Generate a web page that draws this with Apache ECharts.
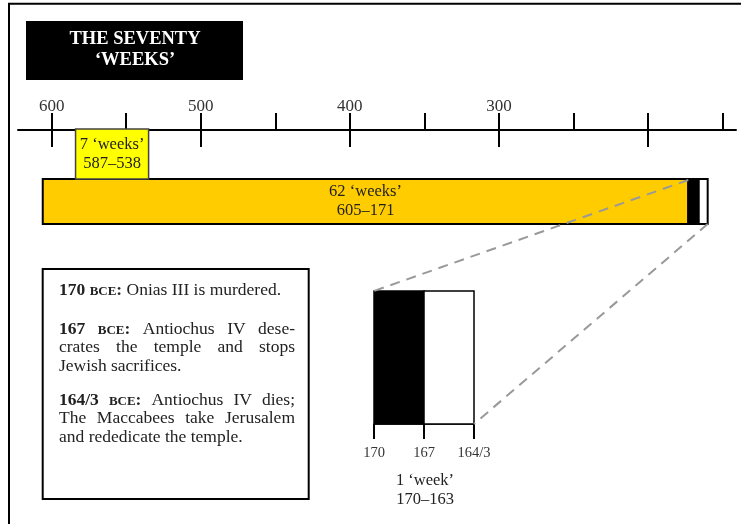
<!DOCTYPE html>
<html><head><meta charset="utf-8">
<script src="https://cdn.jsdelivr.net/npm/echarts@6/dist/echarts.min.js"></script>
<style>html,body{margin:0;padding:0;background:#fff}#c{width:741px;height:524px}</style>
</head><body><div id="c"></div>
<script>
// ---------- data ----------
const titleLines = ['THE SEVENTY', '‘WEEKS’'];
const axisMajorYears = [600, 500, 400, 300, 200];
const axisMinorYears = [550, 450, 350, 250, 150];
const axisLabelYears = [600, 500, 400, 300];
const axisRange = [141, 622.6];

const sixtyTwoWeeksSpan = [606, 173];
const sixtyTwoWeeksLabel = ['62 ‘weeks’', '605–171'];
const sevenWeeksSpan = [584, 535];
const sevenWeeksLabel = ['7 ‘weeks’', '587–538'];
const lastWeekBlackSpan = [173, 166];
const lastWeekWhiteSpan = [166, 160];

const detailRange = [164, 170];
const detailTickYears = [170, 167, 164];
const detailTickLabels = ['170', '167', '164/3'];
const detailBlackSpan = [170, 167];
const detailWhiteSpan = [167, 164];
const detailLabel = ['1 ‘week’', '170–163'];

const noteParagraphs = [
  ['**170** ^^BCE^^**:** Onias III is murdered.'],
  ['**167** ^^BCE^^**:** Antiochus IV dese-', 'crates the temple and stops', 'Jewish sacrifices.'],
  ['**164/3** ^^BCE^^**:** Antiochus IV dies;', 'The Maccabees take Jerusalem', 'and rededicate the temple.']
];

// ---------- layout / style ----------
const SERIF = '"Liberation Serif", "Times New Roman", serif';
const TXT = '#222';
const NOTE_Y = [[290], [329.5, 347.8, 366.1], [400.5, 418.8, 437.1]];
const NOTE_X = 59, NOTE_W = 236;
const FONTS = {
  n: '17.5px ' + SERIF,
  b: 'bold 17.5px ' + SERIF,
  sc: 'bold 13px ' + SERIF
};
const measureCtx = document.createElement('canvas').getContext('2d');
function tw(style, t) { measureCtx.font = FONTS[style]; return measureCtx.measureText(t).width; }
function parseWord(word) {
  const parts = [];
  const re = /\*\*(.+?)\*\*|\^\^(.+?)\^\^|([^*^]+)/g;
  let m;
  while ((m = re.exec(word))) {
    if (m[1] !== undefined) parts.push(['b', m[1]]);
    else if (m[2] !== undefined) parts.push(['sc', m[2]]);
    else parts.push(['n', m[3]]);
  }
  return parts;
}

const graphics = [];
graphics.push({ type: 'polyline', id: 'frame', z: 1,
  shape: { points: [[9, 530], [9, 3.7], [745, 3.7]] },
  style: { stroke: '#000', lineWidth: 2, fill: null } });
graphics.push({ type: 'rect', id: 'titleBox', z: 1, shape: { x: 26, y: 21, width: 217, height: 59 }, style: { fill: '#000' } });
titleLines.forEach((t, i) => graphics.push({ type: 'text', id: 'title' + i, z: 2,
  style: { text: t, x: 135, y: 39.5 + i * 20.5, align: 'center', verticalAlign: 'middle', fill: '#fff', font: 'bold 18.5px ' + SERIF } }));
graphics.push({ type: 'rect', id: 'noteBox', z: 1, shape: { x: 42.7, y: 269, width: 266, height: 230 },
  style: { fill: '#fff', stroke: '#000', lineWidth: 2 } });
let nid = 0;
noteParagraphs.forEach((para, pi) => {
  para.forEach((line, li) => {
    const words = line.split(' ').map(parseWord);
    const widths = words.map(ps => ps.reduce((s, p) => s + tw(p[0], p[1]), 0));
    const total = widths.reduce((a, b) => a + b, 0);
    const last = li === para.length - 1;
    const gap = last ? tw('n', ' ') : (NOTE_W - total) / (words.length - 1);
    let x = NOTE_X;
    const y = NOTE_Y[pi][li];
    words.forEach((ps, wi) => {
      let px = x;
      ps.forEach(p => {
        graphics.push({ type: 'text', id: 'note' + (nid++), z: 3,
          style: { text: p[1], x: px, y: y + (p[0] === 'sc' ? 1.5 : 0), align: 'left', verticalAlign: 'middle', fill: TXT, font: FONTS[p[0]] } });
        px += tw(p[0], p[1]);
      });
      x += widths[wi] + gap;
    });
  });
});
detailLabel.forEach((t, i) => graphics.push({ type: 'text', id: 'dcap' + i, z: 3,
  style: { text: t, x: 425, y: 481 + i * 19, align: 'center', verticalAlign: 'middle', fill: TXT, font: '16.5px ' + SERIF } }));

const mainBlocks = [
  { span: sixtyTwoWeeksSpan, row: [179, 224], fill: '#FFCC00', stroke: '#000', lw: 2, label: sixtyTwoWeeksLabel },
  { span: lastWeekBlackSpan, row: [179, 224], fill: '#000', stroke: '#000', lw: 2 },
  { span: lastWeekWhiteSpan, row: [179, 224], fill: '#fff', stroke: '#000', lw: 2 },
  { span: sevenWeeksSpan, row: [129, 179], fill: '#FFFF00', stroke: '#444', lw: 1.5, label: sevenWeeksLabel }
];
const detailBlocks = [
  { span: detailBlackSpan, fill: '#000' },
  { span: detailWhiteSpan, fill: '#fff' }
];

const chart = echarts.init(document.getElementById('c'), null, { renderer: 'canvas' });
const hiddenY = (g) => ({ gridIndex: g, type: 'value', min: 0, max: 1, show: false });
const option = {
  animation: false,
  backgroundColor: '#fff',
  grid: [
    { left: 18, width: 718, top: 130, height: 100, outerBoundsMode: 'none', containLabel: false },
    { left: 18, width: 718, top: 130, height: 10, outerBoundsMode: 'none', containLabel: false },
    { left: 374, width: 100, top: 291, height: 133, outerBoundsMode: 'none', containLabel: false }
  ],
  xAxis: [
    { gridIndex: 0, type: 'value', position: 'top', min: axisRange[0], max: axisRange[1], inverse: true,
      axisLine: { show: true, onZero: false, lineStyle: { color: '#000', width: 2 } },
      axisTick: { show: true, customValues: axisMajorYears.concat(axisMinorYears), length: 17, lineStyle: { color: '#000', width: 2 } },
      axisLabel: { show: true, customValues: axisLabelYears, margin: 15, fontSize: 17, fontFamily: SERIF, color: '#333' },
      splitLine: { show: false } },
    { gridIndex: 1, type: 'value', position: 'top', min: axisRange[0], max: axisRange[1], inverse: true,
      axisLine: { show: false, onZero: false },
      axisTick: { show: true, inside: true, customValues: axisMajorYears, length: 17, lineStyle: { color: '#000', width: 2 } },
      axisLabel: { show: false }, splitLine: { show: false } },
    { gridIndex: 2, type: 'value', position: 'bottom', min: detailRange[0], max: detailRange[1], inverse: true,
      axisLine: { show: true, onZero: false, lineStyle: { color: '#000', width: 1.5 } },
      axisTick: { show: true, customValues: detailTickYears, length: 15, lineStyle: { color: '#000', width: 2 } },
      axisLabel: { show: true, customValues: detailTickYears, margin: 22, fontSize: 14.5, fontFamily: SERIF, color: '#333',
        formatter: v => detailTickLabels[detailTickYears.indexOf(v)] },
      splitLine: { show: false } }
  ],
  yAxis: [hiddenY(0), hiddenY(1), hiddenY(2)],
  series: [
    { type: 'custom', xAxisIndex: 0, yAxisIndex: 0, z: 5, clip: false,
      data: mainBlocks.map(b => [b.span[0], b.span[1]]),
      renderItem: (params, api) => {
        const b = mainBlocks[params.dataIndex];
        const x0 = api.coord([api.value(0), 0])[0];
        const x1 = api.coord([api.value(1), 0])[0];
        const children = [{ type: 'rect', shape: { x: x0, y: b.row[0], width: x1 - x0, height: b.row[1] - b.row[0] },
          style: { fill: b.fill, stroke: b.stroke, lineWidth: b.lw } }];
        if (b.label) {
          const cx = (x0 + x1) / 2, cy = (b.row[0] + b.row[1]) / 2;
          b.label.forEach((t, i) => children.push({ type: 'text',
            style: { text: t, x: cx, y: cy - 9.5 + i * 19, align: 'center', verticalAlign: 'middle', fill: TXT, font: '16.5px ' + SERIF } }));
        }
        return { type: 'group', children };
      } },
    { type: 'custom', xAxisIndex: 2, yAxisIndex: 2, z: 1, clip: false,
      data: detailBlocks.map(b => [b.span[0], b.span[1]]),
      renderItem: (params, api) => {
        const b = detailBlocks[params.dataIndex];
        const p0 = api.coord([api.value(0), 1]);
        const p1 = api.coord([api.value(1), 0]);
        return { type: 'rect', shape: { x: p0[0], y: p0[1], width: p1[0] - p0[0], height: p1[1] - p0[1] },
          style: { fill: b.fill, stroke: '#000', lineWidth: 1.5 } };
      } }
  ],
  graphic: graphics
};
chart.setOption(option);

const xa = chart.convertToPixel({ xAxisIndex: 0 }, lastWeekBlackSpan[0]);
const xb = chart.convertToPixel({ xAxisIndex: 0 }, lastWeekWhiteSpan[1]);
const dl = chart.convertToPixel({ xAxisIndex: 2 }, detailBlackSpan[0]);
const dr = chart.convertToPixel({ xAxisIndex: 2 }, detailWhiteSpan[1]);
chart.setOption({ graphic: [
  { type: 'line', id: 'conn1', z: 100, shape: { x1: xa, y1: 180, x2: dl, y2: 291 },
    style: { stroke: '#999', lineWidth: 2, lineDash: [10, 7] } },
  { type: 'line', id: 'conn2', z: 100, shape: { x1: xb, y1: 224, x2: dr, y2: 424 },
    style: { stroke: '#999', lineWidth: 2, lineDash: [10, 7] } }
] });
</script></body></html>
